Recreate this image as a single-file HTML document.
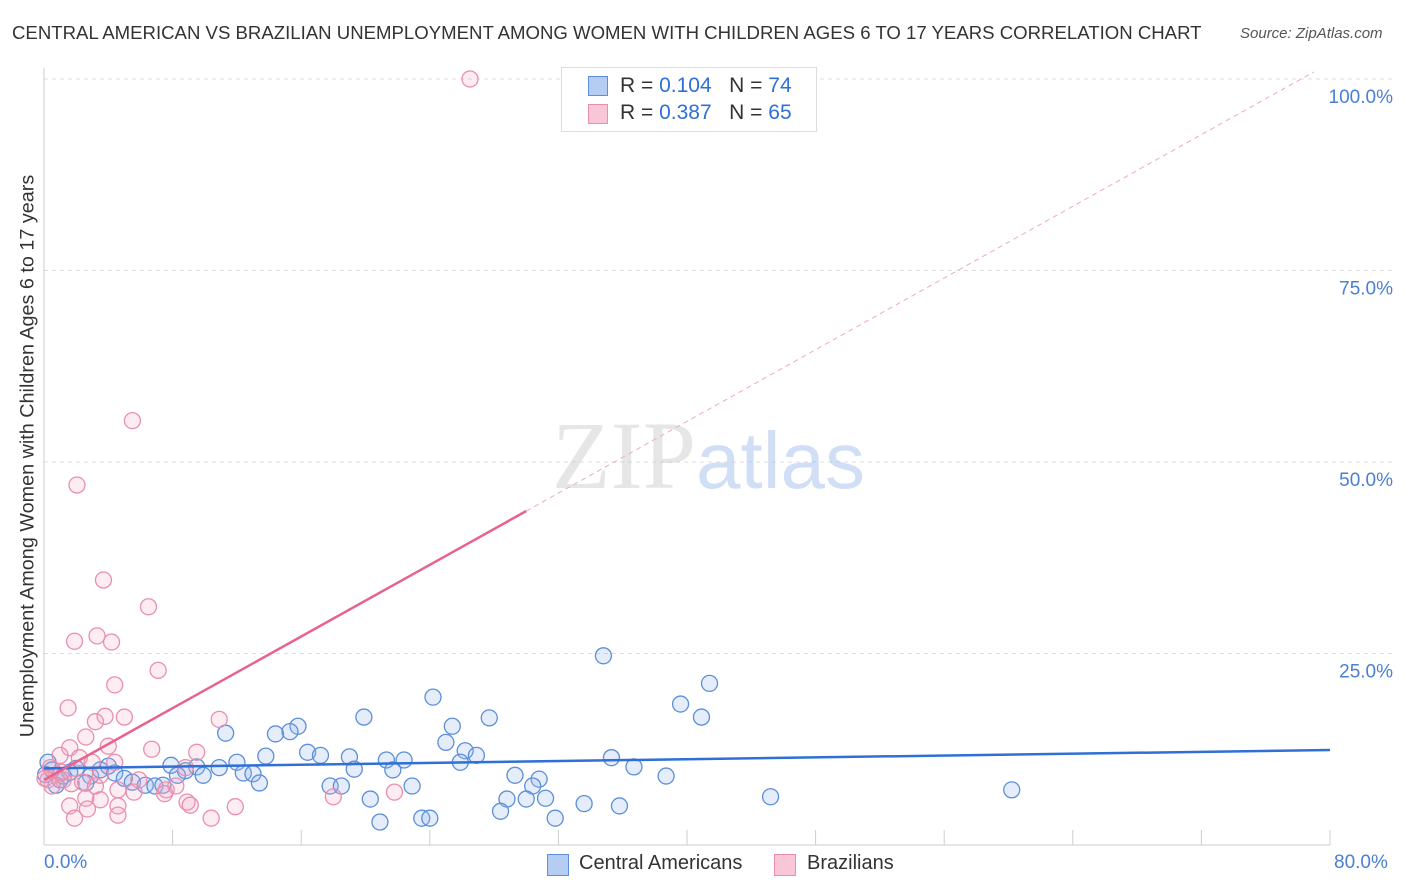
<!DOCTYPE html>
<html><head><meta charset="utf-8">
<style>
body{margin:0;background:#fff;font-family:"Liberation Sans",sans-serif;}
#wrap{position:relative;width:1406px;height:892px;overflow:hidden;}
.t{position:absolute;white-space:nowrap;}
</style></head>
<body>
<div id="wrap">
<div class="t" style="left:12px;top:22px;font-size:18.6px;color:#333;">CENTRAL AMERICAN VS BRAZILIAN UNEMPLOYMENT AMONG WOMEN WITH CHILDREN AGES 6 TO 17 YEARS CORRELATION CHART</div>
<div class="t" style="left:1240px;top:25px;font-size:15px;color:#555;font-style:italic;">Source: ZipAtlas.com</div>
<svg id="svg" width="1406" height="892" style="position:absolute;left:0;top:0"></svg>
</div>
<script>
const blueX=[34.8,41.4,39.6,40.9,24.2,27.7,19.9,25.4,15.8,15.3,14.4,11.3,25.0,26.2,26.9,25.9,16.4,17.2,13.8,19.0,21.3,22.4,35.3,36.7,38.7,21.7,19.3,12.0,10.9,9.5,7.9,8.8,9.9,12.4,13.0,13.4,29.3,30.8,30.4,22.9,17.8,18.5,28.8,30.0,31.2,20.3,28.4,33.6,35.8,45.2,60.2,20.9,23.5,24.0,31.8,0.25,0.5,1.0,1.6,2.0,2.9,3.5,4.0,4.4,5.0,5.5,6.3,6.9,7.4,8.3,1.2,2.6,0.75,0.1];
const blueY=[24.7,21.1,18.4,16.7,19.3,16.6,16.7,15.5,15.5,14.8,14.5,14.6,13.4,12.3,11.7,10.8,12.1,11.7,11.6,11.5,11.1,11.1,11.4,10.2,9.0,9.8,9.9,10.8,10.1,10.2,10.4,9.7,9.1,9.4,9.3,8.1,9.1,8.6,7.7,7.7,7.7,7.7,6.0,6.0,6.1,6.0,4.4,5.4,5.1,6.3,7.2,3.0,3.5,3.5,3.5,10.8,9.8,8.5,9.5,10.0,9.0,9.8,10.3,9.4,8.7,8.2,7.8,7.7,7.8,9.1,9.0,8.1,7.8,9.2];
const pinkX=[26.5,5.5,2.05,3.7,6.5,3.3,1.9,4.2,7.1,4.4,1.5,5.0,3.2,3.8,10.9,2.6,4.0,6.7,9.5,1.6,1.0,2.2,3.0,4.4,8.8,0.4,0.75,1.2,1.7,2.4,3.2,4.6,5.6,7.6,8.2,7.5,21.8,18.0,8.9,9.1,3.5,2.6,4.6,11.9,1.6,2.7,1.9,4.6,10.4,0.25,0.5,1.1,0.06,5.9,3.5];
const pinkY=[100,55.4,47.0,34.6,31.1,27.3,26.6,26.5,22.8,20.9,17.9,16.7,16.1,16.8,16.4,14.1,12.9,12.5,12.1,12.7,11.7,11.4,10.8,10.8,10.1,10.1,9.1,8.5,8.0,8.2,7.7,7.2,6.9,7.2,7.7,6.7,6.9,6.3,5.6,5.2,5.9,6.1,5.1,5.0,5.1,4.7,3.5,3.9,3.5,8.5,7.7,9.5,8.7,8.5,9.1];
const yTicks=[25,50,75,100];
const blueLine=[10.0,12.4];
const pinkLine=[8.5,1.17];
const X=v=>44+v*16.075, Y=v=>845-v*7.66;
const svg=document.getElementById('svg');const NS='http://www.w3.org/2000/svg';
function mk(tag,a,name){const e=document.createElementNS(NS,tag);for(const k in a)e.setAttribute(k,a[k]);


svg.appendChild(e);return e;}
yTicks.forEach(t=>{mk('line',{x1:44,x2:1395,y1:Y(t),y2:Y(t),stroke:'#ddd','stroke-dasharray':'4,4'},'gridline');
const tx=mk('text',{x:1393,y:Y(t)+24,'text-anchor':'end','font-size':19,fill:'#4a7fd4','font-family':'Liberation Sans'},'y-tick-label');tx.textContent=t.toFixed(1)+'%';});
mk('line',{x1:44,x2:44,y1:68,y2:845,stroke:'#ccc'},'y-axis');
mk('line',{x1:44,x2:1330,y1:845,y2:845,stroke:'#ccc'},'x-axis');
for(let i=1;i<=10;i++){mk('line',{x1:X(i*8),x2:X(i*8),y1:830,y2:845,stroke:'#ccc'},'x-tick');}
blueX.forEach((x,i)=>mk('circle',{cx:X(x),cy:Y(blueY[i]),r:8,fill:'rgba(150,185,240,0.25)',stroke:'#5b8fd9','stroke-width':1.3},'blue-point'));
pinkX.forEach((x,i)=>mk('circle',{cx:X(x),cy:Y(pinkY[i]),r:8,fill:'rgba(245,170,195,0.22)',stroke:'#ea8eae','stroke-width':1.3},'pink-point'));
mk('line',{x1:X(0),y1:Y(blueLine[0]),x2:X(80),y2:Y(blueLine[1]),stroke:'#2f6fd6','stroke-width':2.5},'blue-trend-line');
mk('line',{x1:X(0),y1:Y(pinkLine[0]),x2:X(30),y2:Y(pinkLine[0]+pinkLine[1]*30),stroke:'#e8628c','stroke-width':2.5},'pink-trend-line');
mk('line',{x1:X(30),y1:Y(pinkLine[0]+pinkLine[1]*30),x2:X(79),y2:Y(pinkLine[0]+pinkLine[1]*79),stroke:'#eeaabb','stroke-width':1,'stroke-dasharray':'5,4'},'pink-trend-extension');
</script>
<div class="t" style="left:552px;top:400px;font-size:96px;font-family:'Liberation Serif',serif;color:rgba(200,200,200,0.45);">ZIP<span style="font-family:'Liberation Sans',sans-serif;font-size:80px;color:rgba(150,185,235,0.45);">atlas</span></div>
<div style="position:absolute;left:561px;top:67px;width:254px;height:63px;border:1px solid #ddd;background:#fff;font-size:21px;color:#333;">
<div style="position:absolute;left:26px;top:8px;width:18px;height:18px;background:#b5cdf3;border:1px solid #5b8fd9"></div>
<div class="t" style="left:58px;top:6px">R = <span style="color:#2f6fd6">0.104</span>&nbsp;&nbsp;&nbsp;N = <span style="color:#2f6fd6">74</span></div>
<div style="position:absolute;left:26px;top:36px;width:18px;height:18px;background:#f8c6d6;border:1px solid #ea8eae"></div>
<div class="t" style="left:58px;top:33px">R = <span style="color:#2f6fd6">0.387</span>&nbsp;&nbsp;&nbsp;N = <span style="color:#2f6fd6">65</span></div>
</div>
<div class="t" style="left:44px;top:852px;font-size:19px;color:#4a7fd4;">0.0%</div>
<div class="t" style="left:1334px;top:852px;font-size:19px;color:#4a7fd4;">80.0%</div>
<div style="position:absolute;left:547px;top:854px;width:20px;height:20px;background:#b5cdf3;border:1px solid #5b8fd9"></div>
<div class="t" style="left:579px;top:852px;font-size:20px;color:#333;">Central Americans</div>
<div style="position:absolute;left:774px;top:854px;width:20px;height:20px;background:#f8c6d6;border:1px solid #ea8eae"></div>
<div class="t" style="left:807px;top:852px;font-size:20px;color:#333;">Brazilians</div>
<div class="t" style="left:28px;top:456px;font-size:19.8px;color:#333;transform:translate(-50%,-50%) rotate(-90deg);">Unemployment Among Women with Children Ages 6 to 17 years</div>
</body></html>
